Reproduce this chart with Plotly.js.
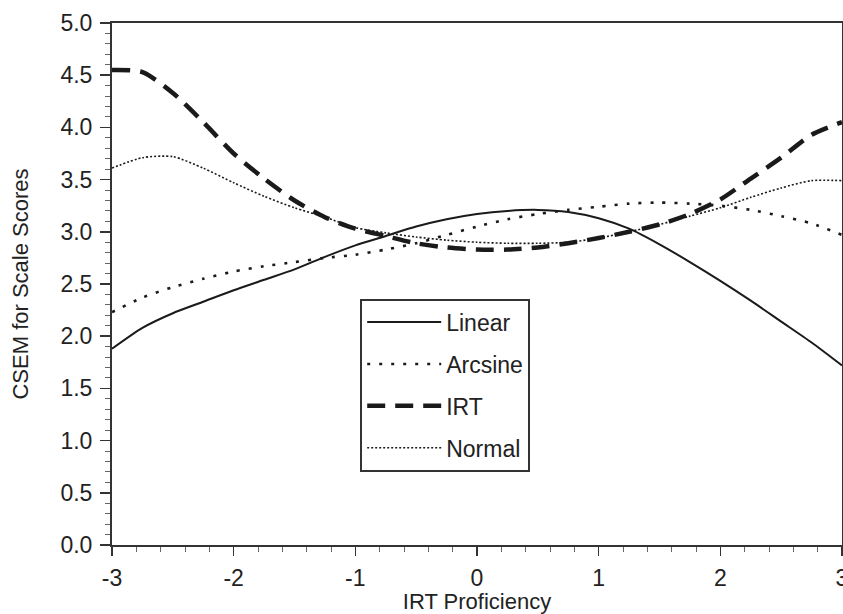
<!DOCTYPE html>
<html>
<head>
<meta charset="utf-8">
<script src="https://cdn.plot.ly/plotly-3.0.1.min.js"></script>
<style>html,body{margin:0;padding:0;background:#fff;}#chart{width:843px;height:614px;}</style>
</head>
<body>
<div id="chart"></div>
<script>
const theta = [-3, -2.75, -2.5, -2.25, -2, -1.75, -1.5, -1.25, -1, -0.75, -0.5, -0.25, 0, 0.25, 0.5, 0.75, 1, 1.25, 1.5, 1.75, 2, 2.25, 2.5, 2.75, 3];
const linearCSEM  = [1.88, 2.08, 2.22, 2.33, 2.44, 2.54, 2.64, 2.76, 2.87, 2.96, 3.05, 3.12, 3.17, 3.20, 3.21, 3.19, 3.13, 3.03, 2.88, 2.71, 2.53, 2.34, 2.14, 1.94, 1.72];
const arcsineCSEM = [2.23, 2.37, 2.47, 2.55, 2.62, 2.67, 2.71, 2.75, 2.78, 2.83, 2.89, 2.97, 3.05, 3.12, 3.17, 3.21, 3.24, 3.27, 3.28, 3.27, 3.25, 3.21, 3.15, 3.08, 2.97];
const irtCSEM     = [4.55, 4.53, 4.33, 4.05, 3.75, 3.51, 3.30, 3.14, 3.03, 2.96, 2.89, 2.85, 2.83, 2.83, 2.85, 2.89, 2.94, 3.00, 3.07, 3.17, 3.31, 3.51, 3.71, 3.93, 4.05];
const normalCSEM  = [3.61, 3.71, 3.72, 3.61, 3.47, 3.34, 3.23, 3.14, 3.04, 2.99, 2.95, 2.92, 2.90, 2.89, 2.89, 2.90, 2.94, 3.00, 3.07, 3.15, 3.23, 3.33, 3.42, 3.49, 3.49];
const seriesNames = ["Linear", "Arcsine", "IRT", "Normal"];
const xTickVals = [-3, -2, -1, 0, 1, 2, 3];
const yTickVals = [0, 0.5, 1, 1.5, 2, 2.5, 3, 3.5, 4, 4.5, 5];

const ink = "#1a1a1a";
const fontFam = "Liberation Sans, Arial, Helvetica, sans-serif";

function tr(y, name, width, dash, grp) {
  return {x: theta, y: y, name: name, type: "scatter", mode: "lines",
    legendgroup: grp, line: {color: ink, width: width, dash: dash, shape: "spline", smoothing: 0.7}};
}
const data = [
  tr(linearCSEM, seriesNames[0], 2, "solid", "a"),
  tr(arcsineCSEM, seriesNames[1], 2.6, "3px,9px", "b"),
  tr(irtCSEM, seriesNames[2], 4.5, "18px,10px", "c"),
  tr(normalCSEM, seriesNames[3], 1.6, "2px,2px", "d")
];

const layout = {
  width: 843, height: 614,
  margin: {l: 112, r: 1, t: 23, b: 69},
  paper_bgcolor: "#fff", plot_bgcolor: "#fff",
  font: {family: fontFam, size: 23, color: "#222"},
  showlegend: true,
  legend: {x: 0.34, y: 0.472, xanchor: "left", yanchor: "top",
    bgcolor: "#fff", bordercolor: "#333", borderwidth: 2,
    font: {size: 23, color: "#222"}, traceorder: "grouped", tracegroupgap: 9,
    itemwidth: 74, entrywidth: 180, entrywidthmode: "pixels"},
  xaxis: {range: [-3, 3], tickvals: xTickVals, ticktext: xTickVals.map(String),
    ticks: "outside", ticklen: 9, tickwidth: 1.5, tickcolor: "#333",
    showline: true, linecolor: "#333", linewidth: 2, mirror: true,
    showgrid: false, zeroline: false, ticklabelstandoff: 2, ticklabeloverflow: "allow",
    minor: {dtick: 0.2, ticks: "outside", ticklen: 5, tickwidth: 1, tickcolor: "#666", showgrid: false},
    title: {text: "IRT Proficiency", font: {size: 22}, standoff: 2}},
  yaxis: {range: [0, 5], tickvals: yTickVals, ticktext: yTickVals.map(v => v.toFixed(1)),
    ticks: "outside", ticklen: 10, tickwidth: 1.5, tickcolor: "#333",
    showline: true, linecolor: "#333", linewidth: 2, mirror: true,
    showgrid: false, zeroline: false, ticklabelstandoff: 3,
    minor: {dtick: 0.1, ticks: "outside", ticklen: 5, tickwidth: 1, tickcolor: "#666", showgrid: false},
    title: {text: "CSEM for Scale Scores", font: {size: 22}, standoff: 26}}
};

Plotly.newPlot("chart", data, layout, {staticPlot: true, displayModeBar: false});
</script>
</body>
</html>
